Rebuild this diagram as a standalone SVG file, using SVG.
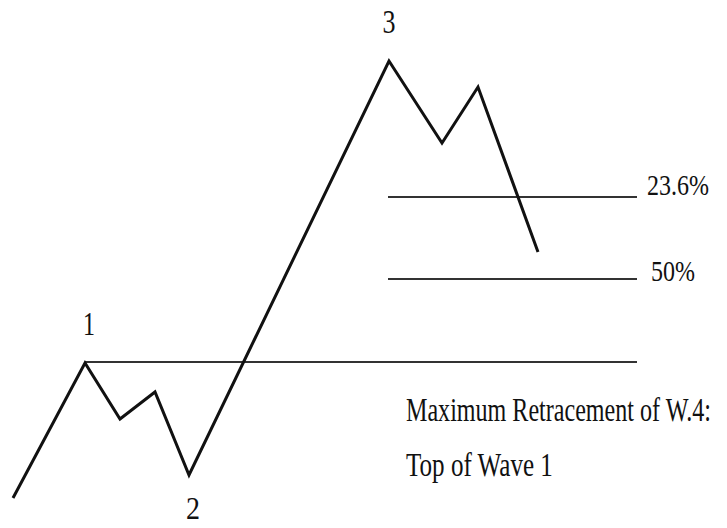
<svg xmlns="http://www.w3.org/2000/svg" width="727" height="528" viewBox="0 0 727 528">
<style>
.wave{fill:none;stroke:#111;stroke-width:3;stroke-linejoin:miter}
.lvl{stroke:#333;stroke-width:2}
.t{font-family:"Liberation Serif",serif;fill:#111}
</style>
<rect width="727" height="528" fill="#fff"/>
<g id="levels">
<line class="lvl" x1="85" y1="362" x2="637" y2="362"/>
<line class="lvl" x1="388" y1="197" x2="637" y2="197"/>
<line class="lvl" x1="388" y1="279" x2="637" y2="279"/>
</g>
<g id="wave">
<polyline class="wave" points="13,498 85,363 120,419 155,392 189,475 389,61 442,143 478,87 538,252"/>
</g>
<g id="labels">
<text class="t" x="89" y="335" font-size="34" text-anchor="middle" textLength="12" lengthAdjust="spacingAndGlyphs">1</text>
<text class="t" x="193" y="519" font-size="31" text-anchor="middle" textLength="14" lengthAdjust="spacingAndGlyphs">2</text>
<text class="t" x="389" y="33" font-size="34" text-anchor="middle" textLength="13" lengthAdjust="spacingAndGlyphs">3</text>
<text class="t" x="647" y="195" font-size="29" textLength="62" lengthAdjust="spacingAndGlyphs">23.6%</text>
<text class="t" x="651" y="281" font-size="29" textLength="44" lengthAdjust="spacingAndGlyphs">50%</text>
<text class="t" transform="translate(406,421) scale(0.73,1)" x="0" y="0" font-size="33">Maximum Retracement of W.4:</text>
<text class="t" transform="translate(406,476) scale(0.76,1)" x="0" y="0" font-size="33">Top of Wave 1</text>
</g>
</svg>
